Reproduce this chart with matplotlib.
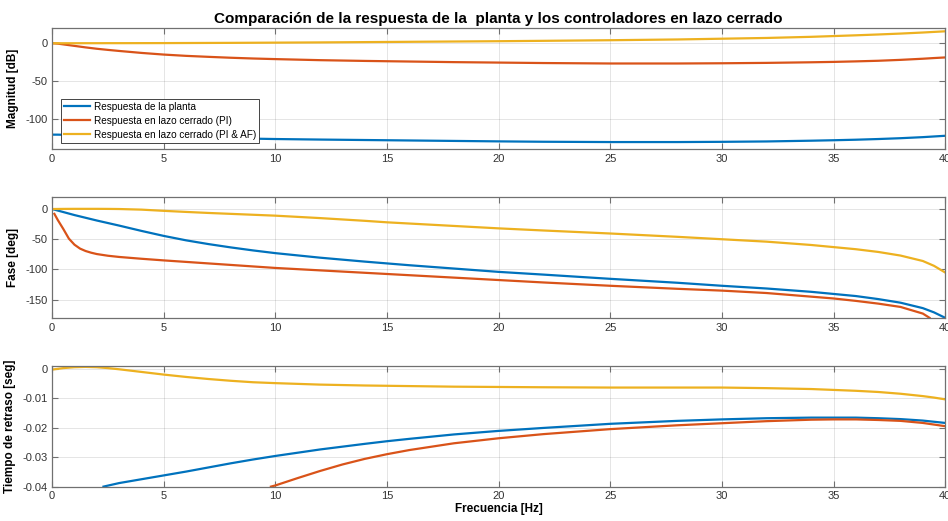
import matplotlib.pyplot as plt

plt.rcParams['font.family'] = ['Liberation Sans', 'DejaVu Sans']
plt.rcParams['axes.unicode_minus'] = False

# colores por defecto de MATLAB
c_planta = '#0072BD'
c_pi = '#D95319'
c_piaf = '#EDB120'

labels = ['Respuesta de la planta',
          'Respuesta en lazo cerrado (PI)',
          'Respuesta en lazo cerrado (PI & AF)']

# --- magnitud [dB] ---
f_mag = [0, 0.25, 0.5, 1, 1.5, 2, 2.5, 3, 4, 5, 6, 7, 8, 9, 10, 12, 14, 15, 16,
         18, 20, 22, 25, 28, 30, 32, 34, 35, 36, 37, 38, 39, 39.5, 40]
mag_planta = [-121, -121, -121.2, -121.5, -121.8, -122.1, -122.4, -122.7, -123.3,
              -124, -124.6, -125.2, -125.8, -126.3, -126.8, -127.5, -128.1, -128.4,
              -128.7, -129.3, -129.9, -130.4, -130.8, -130.8, -130.5, -130, -129,
              -128.4, -127.7, -126.8, -125.7, -124.3, -123.4, -122.5]
mag_pi = [0, -0.5, -1.5, -3.5, -5.5, -7.3, -8.8, -10.2, -12.8, -15, -16.7, -18,
          -19.2, -20.2, -21, -22.4, -23.4, -23.8, -24.2, -25, -25.6, -26.2, -26.8,
          -26.8, -26.5, -26, -25.2, -24.7, -24, -23.2, -22, -20.5, -19.6, -18.8]
mag_piaf = [0, 0, 0, 0, 0.05, 0.05, 0.1, 0.1, 0.15, 0.2, 0.3, 0.4, 0.5, 0.65, 0.8,
            1.1, 1.5, 1.7, 1.9, 2.3, 2.7, 3.2, 4, 5, 6, 7, 8.5, 9.5, 10.5, 11.6,
            12.8, 14.2, 15, 15.8]

# --- fase [deg] ---
f_fase = [0, 0.25, 0.5, 1, 1.5, 2, 2.5, 3, 4, 5, 6, 7, 8, 9, 10, 12, 14, 15, 16,
          18, 20, 22, 25, 28, 30, 32, 34, 35, 36, 37, 38, 39, 39.5, 40]
fase_planta = [0, -2.5, -5, -10, -14.5, -19, -23.2, -27.4, -36.2, -44.5, -51.8,
               -58, -63.5, -68.5, -73, -80.5, -87, -90, -93, -98.5, -104, -108.5,
               -115.5, -122, -127, -131.5, -137, -140.5, -144, -149, -155, -164,
               -171, -180]
f_fase_pi = [0.1, 0.25, 0.5, 0.75, 1, 1.25, 1.5, 1.75, 2, 2.5, 3, 4, 5, 6, 7, 8, 9,
             10, 12, 14, 15, 16, 18, 20, 22, 25, 28, 30, 32, 34, 35, 36, 37, 38, 39,
             39.3]
fase_pi = [-8, -18, -33, -49, -59, -65.5, -69.5, -72.3, -74.5, -77.3, -79.3, -82.3,
           -85, -87.5, -90, -92.5, -95, -97.5, -101.5, -105.5, -107.5, -109.5,
           -113.5, -117.5, -121.5, -127, -132, -135, -139, -145, -148, -152, -156.5,
           -162, -173, -180]
fase_piaf = [0, 0.1, 0.2, 0.3, 0.3, 0.3, 0.2, 0, -1, -3, -4.8, -6.5, -8, -9.5, -11,
             -15, -19.5, -22, -24, -28, -32, -35.5, -40.5, -46, -50, -54, -59.5, -63,
             -66.5, -71, -77, -86, -94, -105]

# --- tiempo de retraso [seg] ---
f_ret = [0, 0.5, 1, 1.5, 2, 2.5, 3, 4, 5, 6, 7, 8, 9, 10, 12, 14, 15, 16, 18, 20,
         22, 25, 28, 30, 32, 34, 35, 36, 37, 38, 39, 39.5, 40]
ret_piaf = [-0.0003, 0.0002, 0.0005, 0.0006, 0.0005, 0.0002, -0.0002, -0.0011,
            -0.002, -0.0028, -0.0035, -0.0041, -0.0046, -0.0049, -0.0054, -0.0057,
            -0.0058, -0.0059, -0.0061, -0.0062, -0.0063, -0.0064, -0.0064, -0.0064,
            -0.0066, -0.0069, -0.0072, -0.0075, -0.0079, -0.0085, -0.0093, -0.0098,
            -0.0104]
f_ret_planta = [2.3, 3, 4, 5, 6, 7, 8, 9, 10, 12, 14, 15, 16, 18, 20, 22, 25, 28, 30,
                32, 34, 35, 36, 37, 38, 39, 40]
ret_planta = [-0.04, -0.0388, -0.0375, -0.0362, -0.0349, -0.0335, -0.0321, -0.0308,
              -0.0296, -0.0274, -0.0255, -0.0246, -0.0238, -0.0223, -0.0211, -0.0201,
              -0.0187, -0.0177, -0.0172, -0.0168, -0.0166, -0.0166, -0.0166, -0.0168,
              -0.0171, -0.0176, -0.0184]
f_ret_pi = [9.8, 10, 11, 12, 13, 14, 15, 16, 18, 20, 22, 25, 28, 30, 32, 34, 35, 36,
            37, 38, 39, 40]
ret_pi = [-0.04, -0.0396, -0.0371, -0.0347, -0.0325, -0.0306, -0.029, -0.0276,
          -0.0253, -0.0236, -0.0222, -0.0205, -0.0192, -0.0185, -0.0178, -0.0173,
          -0.0172, -0.0172, -0.0174, -0.0177, -0.0184, -0.0195]


def matlab_style(ax):
    ax.grid(True, color='#262626', alpha=0.12, linewidth=0.7)
    ax.set_axisbelow(True)
    for s in ax.spines.values():
        s.set_color('#707070')
        s.set_linewidth(0.9)
    ax.tick_params(direction='in', length=4, width=0.8, colors='#707070',
                   labelcolor='#333333', labelsize=8, top=True, right=True)
    ax.set_xlim(0, 40)
    ax.set_xticks([0, 5, 10, 15, 20, 25, 30, 35, 40])


fig = plt.figure(figsize=(9.48, 5.21), dpi=100)
ax1 = fig.add_axes([0.055, 0.714, 0.942, 0.232])
ax2 = fig.add_axes([0.055, 0.390, 0.942, 0.232])
ax3 = fig.add_axes([0.055, 0.066, 0.942, 0.232])

lw = 1.6
ax1.plot(f_mag, mag_planta, color=c_planta, lw=lw, label=labels[0])
ax1.plot(f_mag, mag_pi, color=c_pi, lw=lw, label=labels[1])
ax1.plot(f_mag, mag_piaf, color=c_piaf, lw=lw, label=labels[2])
ax1.set_ylim(-140, 20)
ax1.set_yticks([0, -50, -100])
ax1.set_ylabel('Magnitud [dB]', fontweight='bold', fontsize=8.5)
ax1.set_title('Comparación de la respuesta de la  planta y los controladores en lazo cerrado',
              fontweight='bold', fontsize=11, pad=4)
leg = ax1.legend(loc='lower left', bbox_to_anchor=(0.01, 0.05), borderaxespad=0,
                 fontsize=7.2, fancybox=False, framealpha=1, edgecolor='#262626',
                 handlelength=2.6, handletextpad=0.4, labelspacing=0.4,
                 borderpad=0.3)
leg.get_frame().set_linewidth(0.6)

ax2.plot(f_fase, fase_planta, color=c_planta, lw=lw)
ax2.plot(f_fase_pi, fase_pi, color=c_pi, lw=lw)
ax2.plot(f_fase, fase_piaf, color=c_piaf, lw=lw)
ax2.set_ylim(-180, 20)
ax2.set_yticks([0, -50, -100, -150])
ax2.set_ylabel('Fase [deg]', fontweight='bold', fontsize=8.5)

ax3.plot(f_ret, ret_piaf, color=c_piaf, lw=lw)
ax3.plot(f_ret_planta, ret_planta, color=c_planta, lw=lw)
ax3.plot(f_ret_pi, ret_pi, color=c_pi, lw=lw)
ax3.set_ylim(-0.04, 0.001)
ax3.set_yticks([0, -0.01, -0.02, -0.03, -0.04])
ax3.set_yticklabels(['0', '-0.01', '-0.02', '-0.03', '-0.04'])
ax3.set_ylabel('Tiempo de retraso [seg]', fontweight='bold', fontsize=8.5)
ax3.set_xlabel('Frecuencia [Hz]', fontweight='bold', fontsize=8.5, labelpad=1)

for ax in (ax1, ax2, ax3):
    matlab_style(ax)

fig.savefig('out.png', dpi=100)
